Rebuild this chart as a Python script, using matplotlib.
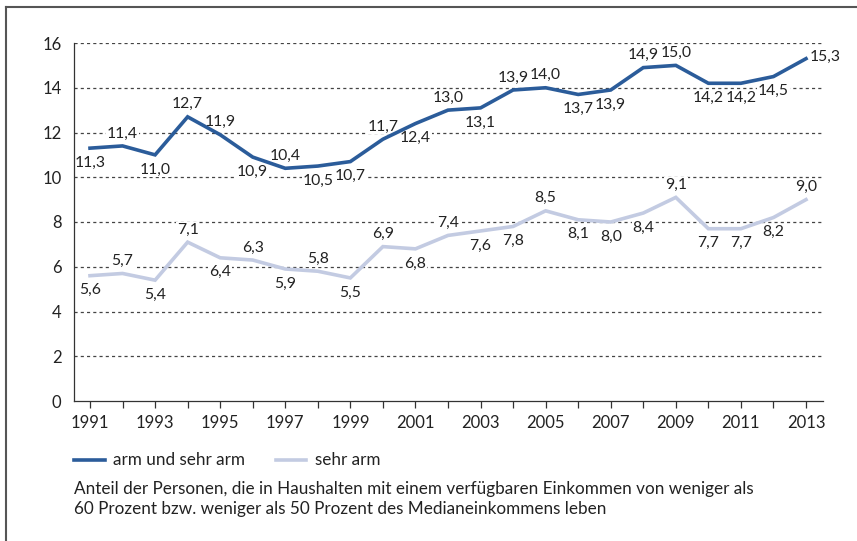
import matplotlib
matplotlib.use("Agg")
import matplotlib.pyplot as plt
from matplotlib.lines import Line2D

plt.rcParams['font.family'] = ['Lato', 'DejaVu Sans']

years = list(range(1991, 2014))
arm_und_sehr_arm = [11.3, 11.4, 11.0, 12.7, 11.9, 10.9, 10.4, 10.5, 10.7, 11.7, 12.4, 13.0,
                    13.1, 13.9, 14.0, 13.7, 13.9, 14.9, 15.0, 14.2, 14.2, 14.5, 15.3]
sehr_arm = [5.6, 5.7, 5.4, 7.1, 6.4, 6.3, 5.9, 5.8, 5.5, 6.9, 6.8, 7.4,
            7.6, 7.8, 8.5, 8.1, 8.0, 8.4, 9.1, 7.7, 7.7, 8.2, 9.0]
# label placement: 'a' above, 'b' below, 'r' right
pos1 = list("babaababbababaabbaabbbr")
pos2 = list("bababababababbabbbabbba")
series_names = ["arm und sehr arm", "sehr arm"]
caption = ("Anteil der Personen, die in Haushalten mit einem verfügbaren Einkommen von weniger als\n"
           "60 Prozent bzw. weniger als 50 Prozent des Medianeinkommens leben")

dark = "#2b5c9a"
light = "#c3cbe2"
txt = "#222222"
FS = 12.3
FS_LAB = 11.3
FS_TICK = 12

W, H = 857, 541
fig = plt.figure(figsize=(W / 100, H / 100), dpi=100)
ax = fig.add_axes([74 / W, 1 - 401 / H, (823 - 74) / W, (401 - 43) / H])

ax.set_xlim(1991 - 16 / 32.55, 2013 + 17 / 32.55)
ax.set_ylim(0, 16)

for y in range(2, 17, 2):
    ax.axhline(y, color="#444444", lw=0.9, ls=(0, (2.5, 2.5)), zorder=1)

ax.plot(years, arm_und_sehr_arm, color=dark, lw=2.6, zorder=3, solid_joinstyle='miter')
ax.plot(years, sehr_arm, color=light, lw=2.6, zorder=3, solid_joinstyle='miter')

def label(vals, poss):
    for x, v, p in zip(years, vals, poss):
        s = f"{v:.1f}".replace(".", ",")
        if p == 'a':
            off, ha = (0, 9), 'center'
        elif p == 'b':
            off, ha = (0, -10.5), 'center'
        else:
            off, ha = (3, 1), 'left'
        ax.annotate(s, (x, v), xytext=off, textcoords='offset points', ha=ha, va='center',
                    fontsize=FS_LAB, color=txt, zorder=2,
                    bbox=dict(boxstyle='square,pad=0.05', fc='white', ec='none'))

label(arm_und_sehr_arm, pos1)
label(sehr_arm, pos2)

for s in ['top', 'right']:
    ax.spines[s].set_visible(False)
for s in ['left', 'bottom']:
    ax.spines[s].set_color("#333333")
    ax.spines[s].set_linewidth(0.9)

ax.set_yticks(range(0, 17, 2))
ax.set_yticklabels([str(v) for v in range(0, 17, 2)])
ax.tick_params(axis='y', length=0, pad=9, labelsize=FS_TICK, labelcolor=txt)
ax.set_xticks(years[::2])
ax.set_xticklabels([str(y) for y in years[::2]])
ax.set_xticks(years[1::2], minor=True)
ax.tick_params(axis='x', which='both', direction='out', length=5, width=0.9,
               color="#333333", labelsize=FS_TICK, labelcolor=txt, pad=5)

# legend
ly = 1 - 460 / H
fig.add_artist(Line2D([74 / W, 105 / W], [ly, ly], color=dark, lw=2.6))
fig.text(113 / W, ly, series_names[0], fontsize=FS, color=txt, va='center', ha='left')
fig.add_artist(Line2D([276 / W, 306 / W], [ly, ly], color=light, lw=2.6))
fig.text(315 / W, ly, series_names[1], fontsize=FS, color=txt, va='center', ha='left')

fig.text(74 / W, 1 - 499 / H, caption, fontsize=FS, color=txt, va='center', ha='left',
         linespacing=1.35)

# frame
fig.add_artist(Line2D([6 / W, 1.0], [1 - 7 / H, 1 - 7 / H], color="#555555", lw=1.5))
fig.add_artist(Line2D([6 / W, 6 / W], [1 - 7 / H, 0], color="#555555", lw=1.5))

fig.savefig("out.png", dpi=100)
